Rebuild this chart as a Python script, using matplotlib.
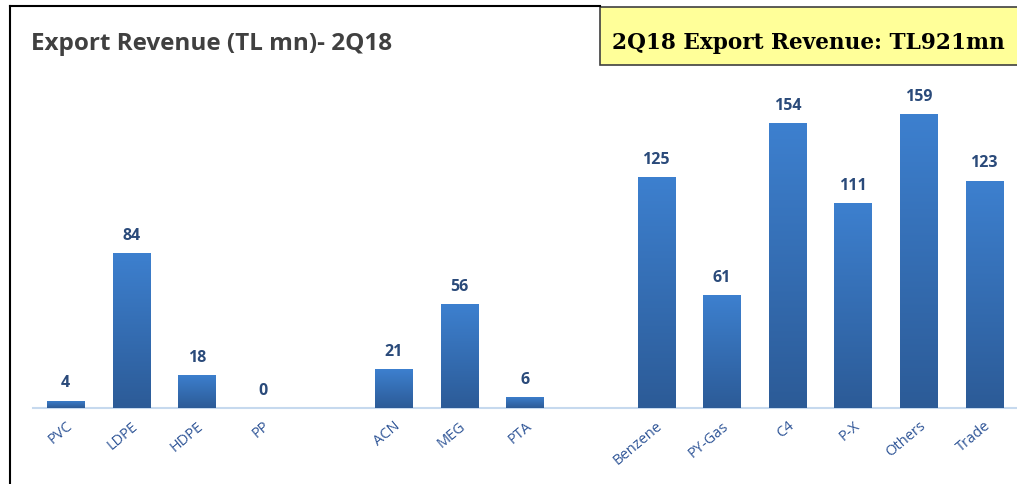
import numpy as np
import matplotlib.pyplot as plt
from matplotlib.lines import Line2D
from matplotlib.patches import Rectangle
from matplotlib.colors import LinearSegmentedColormap

# data
categories = ['PVC', 'LDPE', 'HDPE', 'PP', '', 'ACN', 'MEG', 'PTA', '',
              'Benzene', 'PY-Gas', 'C4', 'P-X', 'Others', 'Trade']
values = [4, 84, 18, 0, None, 21, 56, 6, None, 125, 61, 154, 111, 159, 123]
title = 'Export Revenue (TL mn)- 2Q18'
box_text = '2Q18 Export Revenue: TL921mn'

W, H = 1017, 485
fig = plt.figure(figsize=(W / 100, H / 100), dpi=100)
fig.patch.set_facecolor('white')

def px(x, y):
    return x / W, 1 - y / H

# axes placement
left, right = 33, 1017
base_y, top_y = 409, 409 - 170 * 1.849
ax = fig.add_axes([left / W, (H - base_y) / H, (right - left) / W, (base_y - top_y) / H])

cmap = LinearSegmentedColormap.from_list('bar', ['#2c5b97', '#3d80cf'])
grad = np.linspace(0, 1, 256).reshape(-1, 1)

xs = np.arange(len(categories))
for x, v in zip(xs, values):
    if v is None:
        continue
    if v > 0:
        bar = ax.bar(x, v, width=0.57, color='#3570b5', edgecolor='none', zorder=2)[0]
        im = ax.imshow(grad, cmap=cmap, aspect='auto', origin='lower',
                       extent=(x - 0.285, x + 0.285, 0, v), zorder=3)
        im.set_clip_path(bar)
    ax.text(x, v + 5.5, str(v), ha='center', va='bottom', fontsize=11.5,
            fontweight='bold', color='#2a4a7a', family='Open Sans')

ax.set_xlim(-0.5, 14.5)
ax.set_ylim(0, 170)

for s in ['top', 'right', 'left']:
    ax.spines[s].set_visible(False)
ax.spines['bottom'].set_color('#c6d9ee')
ax.spines['bottom'].set_linewidth(1.5)
ax.set_yticks([])
ax.set_xticks([x for x, c in zip(xs, categories) if c])
ax.set_xticklabels([c for c in categories if c], rotation=40, ha='right',
                   rotation_mode='anchor', fontsize=10.5, color='#2f5597',
                   family='Open Sans')
ax.tick_params(axis='x', length=0, pad=7)
ax.patch.set_alpha(0)

# frame lines
fig.add_artist(Line2D([10 / W, 10 / W], [0, 1 - 7 / H], color='black', lw=1.5))
fig.add_artist(Line2D([10 / W, 600 / W], [1 - 7 / H, 1 - 7 / H], color='black', lw=1.5))

# title
fig.text(*px(31, 44), title, fontsize=17.5, fontweight='bold', color='#404040',
         family='Open Sans', va='center', ha='left')

# yellow box
fig.add_artist(Rectangle(px(600, 66), 420 / W, 58 / H, facecolor='#ffff99',
                         edgecolor='#404040', lw=1.2, transform=fig.transFigure))
fig.text(*px(808, 43), box_text, fontsize=15.6, fontweight='bold', color='black',
         family='DejaVu Serif', va='center', ha='center')

fig.savefig('out.png', dpi=100)
